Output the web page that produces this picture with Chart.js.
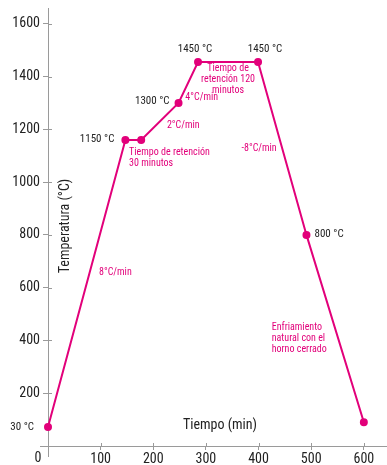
<!DOCTYPE html>
<html lang="es">
<head>
  <meta charset="UTF-8" />
  <title>Tiempo vs Temperatura</title>
  <script src="https://cdn.jsdelivr.net/npm/chart.js"></script>
  <style>
    body { margin: 0; background: #fff; }
    #wrap { width: 387px; height: 465px; position: relative; }
  </style>
</head>
<body>
  <div id="wrap"><canvas id="chart"></canvas></div>
  <script>
    // data
    const tiempo = [0, 147, 177, 248, 285, 399, 491, 600];
    const temperatura = [72, 1160, 1160, 1300, 1455, 1455, 800, 90];
    const xTicks = [0, 100, 200, 300, 400, 500, 600];
    const yTicks = [0, 200, 400, 600, 800, 1000, 1200, 1400, 1600];

    // labels next to points (index into the series)
    const pointLabels = [
      { i: 0, text: '30 °C', dx: -14, dy: 0, align: 'right' },
      { i: 1, text: '1150 °C', dx: -11, dy: -1, align: 'right' },
      { i: 3, text: '1300 °C', dx: -9, dy: -2, align: 'right' },
      { i: 4, text: '1450 °C', dx: -3, dy: -13, align: 'center' },
      { i: 5, text: '1450 °C', dx: 7, dy: -13, align: 'center' },
      { i: 6, text: '800 °C', dx: 8, dy: -1, align: 'left' }
    ];
    // pink notes, placed in data units
    const notes = [
      { x: 128, y: 659, lines: ['8°C/min'], align: 'center' },
      { x: 154, y: 1112, lines: ['Tiempo de retención', '30 minutos'], align: 'left' },
      { x: 257, y: 1216, lines: ['2°C/min'], align: 'center' },
      { x: 292, y: 1320, lines: ['4°C/min'], align: 'center' },
      { x: 342, y: 1429, lines: ['Tiempo de', 'retención 120', 'minutos'], align: 'center' },
      { x: 401, y: 1126, lines: ['-8°C/min'], align: 'center' },
      { x: 425, y: 450, lines: ['Enfriamiento', 'natural con el', 'horno cerrado'], align: 'left' }
    ];

    const pink = '#e2007a';
    const axisGrey = '#9a9a9a';
    const fontFam = "'Roboto Condensed', 'Lato', sans-serif";

    const extras = {
      id: 'extras',
      afterDraw(chart) {
        const ctx = chart.ctx;
        const xs = chart.scales.x, ys = chart.scales.y;
        const x0 = xs.getPixelForValue(0), y0 = ys.getPixelForValue(0);
        ctx.save();
        // axis overhang and inner tick halves
        ctx.strokeStyle = axisGrey;
        ctx.lineWidth = 1;
        ctx.beginPath();
        ctx.moveTo(x0 - 8, y0 + 0.5); ctx.lineTo(x0, y0 + 0.5);
        ctx.moveTo(x0 + 0.5, y0); ctx.lineTo(x0 + 0.5, y0 + 11);
        xTicks.forEach(v => { if (v) { const p = Math.round(xs.getPixelForValue(v)) + 0.5; ctx.moveTo(p, y0 - 3); ctx.lineTo(p, y0); } });
        yTicks.forEach(v => { if (v) { const p = Math.round(ys.getPixelForValue(v)) + 0.5; ctx.moveTo(x0, p); ctx.lineTo(x0 + 4, p); } });
        ctx.stroke();

        ctx.textBaseline = 'middle';
        ctx.fillStyle = '#222';
        ctx.font = '14px ' + fontFam;
        ctx.textAlign = 'center';
        ctx.fillText('0', x0 - 10, y0 + 12);
        ctx.fillText('Tiempo (min)', 220, 425);
        ctx.save();
        ctx.translate(65, 226);
        ctx.rotate(-Math.PI / 2);
        ctx.fillText('Temperatura (°C)', 0, 0);
        ctx.restore();

        ctx.font = '11px ' + fontFam;
        pointLabels.forEach(l => {
          ctx.textAlign = l.align;
          ctx.fillText(l.text, xs.getPixelForValue(tiempo[l.i]) + l.dx, ys.getPixelForValue(temperatura[l.i]) + l.dy);
        });

        ctx.fillStyle = pink;
        ctx.font = '10px ' + fontFam;
        notes.forEach(n => {
          ctx.textAlign = n.align;
          const px = xs.getPixelForValue(n.x), py = ys.getPixelForValue(n.y);
          n.lines.forEach((s, k) => ctx.fillText(s, px, py + k * 11));
        });
        ctx.restore();
      }
    };

    new Chart(document.getElementById('chart'), {
      type: 'scatter',
      data: {
        datasets: [{
          data: tiempo.map((t, i) => ({ x: t, y: temperatura[i] })),
          showLine: true,
          borderColor: pink,
          backgroundColor: pink,
          borderWidth: 2,
          pointRadius: 3,
          pointHoverRadius: 3,
          tension: 0,
          clip: false
        }]
      },
      options: {
        responsive: true,
        maintainAspectRatio: false,
        animation: false,
        layout: { autoPadding: false, padding: { top: 8, right: 0, left: 0, bottom: 0 } },
        plugins: { legend: { display: false }, tooltip: { enabled: false } },
        scales: {
          x: {
            type: 'linear', min: 0, max: 644,
            afterBuildTicks: s => { s.ticks = xTicks.map(v => ({ value: v })); },
            afterFit: s => { s.height = 19; s.paddingLeft = 0; s.paddingRight = 0; },
            grid: { display: true, drawOnChartArea: false, drawTicks: true, tickLength: 4, color: axisGrey },
            border: { display: true, color: axisGrey },
            ticks: {
              padding: 1, color: '#222', font: { family: fontFam, size: 14 },
              callback: v => v === 0 ? '' : v
            }
          },
          y: {
            type: 'linear', min: 0, max: 1660,
            afterBuildTicks: s => { s.ticks = yTicks.map(v => ({ value: v })); },
            afterFit: s => { s.width = 48; s.paddingTop = 0; s.paddingBottom = 0; },
            grid: { display: true, drawOnChartArea: false, drawTicks: true, tickLength: 5, color: axisGrey },
            border: { display: true, color: axisGrey },
            ticks: {
              padding: 3, color: '#222', font: { family: fontFam, size: 14 },
              callback: v => v === 0 ? '' : v
            }
          }
        }
      },
      plugins: [extras]
    });
  </script>
</body>
</html>
